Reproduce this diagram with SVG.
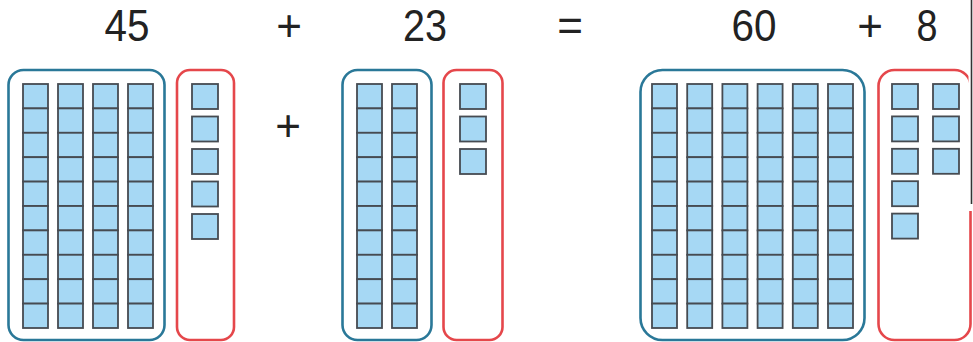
<svg xmlns="http://www.w3.org/2000/svg" xmlns:xlink="http://www.w3.org/1999/xlink" width="973" height="342" viewBox="0 0 973 342">
<style>
.lbl{font-family:"Liberation Sans",Arial,sans-serif;font-size:44px;fill:#222;text-anchor:middle}
.tens{fill:none;stroke:#2a7898;stroke-width:2.6}
.ones{fill:none;stroke:#e5474b;stroke-width:2.6}
.cube{fill:#a6d8f4;stroke:#464b51;stroke-width:1.8}
</style>
<defs>
<g id="rod">
<rect class="cube" x="0" y="0" width="25" height="24.4"/>
<rect class="cube" x="0" y="24.4" width="25" height="24.4"/>
<rect class="cube" x="0" y="48.8" width="25" height="24.4"/>
<rect class="cube" x="0" y="73.2" width="25" height="24.4"/>
<rect class="cube" x="0" y="97.6" width="25" height="24.4"/>
<rect class="cube" x="0" y="122" width="25" height="24.4"/>
<rect class="cube" x="0" y="146.4" width="25" height="24.4"/>
<rect class="cube" x="0" y="170.8" width="25" height="24.4"/>
<rect class="cube" x="0" y="195.2" width="25" height="24.4"/>
<rect class="cube" x="0" y="219.6" width="25" height="24.4"/>
</g>
<rect id="unit" class="cube" x="0" y="0" width="26" height="25"/>
</defs>

<g id="labels">
<text class="lbl" x="127" y="41" textLength="45" lengthAdjust="spacingAndGlyphs">45</text>
<text class="lbl" x="289" y="41">+</text>
<text class="lbl" x="425" y="41" textLength="44" lengthAdjust="spacingAndGlyphs">23</text>
<text class="lbl" x="570" y="41">=</text>
<text class="lbl" x="754" y="41" textLength="45" lengthAdjust="spacingAndGlyphs">60</text>
<text class="lbl" x="870" y="41">+</text>
<text class="lbl" x="927" y="41" textLength="21" lengthAdjust="spacingAndGlyphs">8</text>
<text class="lbl" x="288" y="141">+</text>
</g>

<g id="tens45">
<rect class="tens" x="8.5" y="70" width="156" height="270" rx="15"/>
<use xlink:href="#rod" x="23" y="84"/>
<use xlink:href="#rod" x="58" y="84"/>
<use xlink:href="#rod" x="93" y="84"/>
<use xlink:href="#rod" x="128" y="84"/>
</g>

<g id="ones45">
<rect class="ones" x="177" y="70" width="57" height="270" rx="13"/>
<use xlink:href="#unit" x="192" y="84"/>
<use xlink:href="#unit" x="192" y="116.5"/>
<use xlink:href="#unit" x="192" y="149"/>
<use xlink:href="#unit" x="192" y="181.5"/>
<use xlink:href="#unit" x="192" y="214"/>
</g>

<g id="tens23">
<rect class="tens" x="342.5" y="70" width="89" height="270" rx="15"/>
<use xlink:href="#rod" x="357" y="84"/>
<use xlink:href="#rod" x="392" y="84"/>
</g>

<g id="ones23">
<rect class="ones" x="443.5" y="70" width="59" height="270" rx="13"/>
<use xlink:href="#unit" x="460" y="84"/>
<use xlink:href="#unit" x="460" y="116.5"/>
<use xlink:href="#unit" x="460" y="149"/>
</g>

<g id="tens60">
<rect class="tens" x="640.5" y="70" width="224" height="270" rx="22"/>
<use xlink:href="#rod" x="652" y="84"/>
<use xlink:href="#rod" x="687.2" y="84"/>
<use xlink:href="#rod" x="722.4" y="84"/>
<use xlink:href="#rod" x="757.6" y="84"/>
<use xlink:href="#rod" x="792.8" y="84"/>
<use xlink:href="#rod" x="828" y="84"/>
</g>

<g id="ones8">
<rect class="ones" x="878.5" y="70" width="92" height="270" rx="16"/>
<use xlink:href="#unit" x="892" y="84"/>
<use xlink:href="#unit" x="892" y="116.4"/>
<use xlink:href="#unit" x="892" y="148.8"/>
<use xlink:href="#unit" x="892" y="181.2"/>
<use xlink:href="#unit" x="892" y="213.6"/>
<use xlink:href="#unit" x="933" y="84"/>
<use xlink:href="#unit" x="933" y="116.4"/>
<use xlink:href="#unit" x="933" y="148.8"/>
</g>

<g id="edge">
<rect x="968.5" y="0" width="4.5" height="211" fill="#fff"/>
<line x1="971.5" y1="0" x2="971.5" y2="204" stroke="#333" stroke-width="1.6"/>
</g>
</svg>
